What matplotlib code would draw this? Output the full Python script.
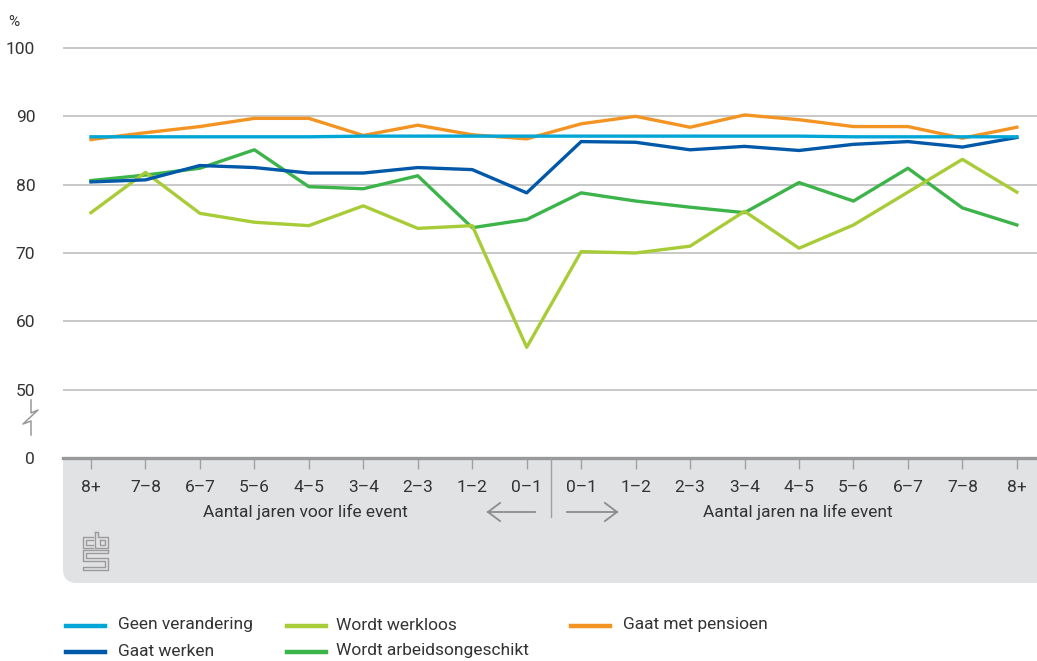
import matplotlib.pyplot as plt
from matplotlib.path import Path
from matplotlib.patches import PathPatch
from matplotlib.lines import Line2D
import matplotlib.transforms as mtransforms

plt.rcParams['font.family'] = ['Roboto', 'DejaVu Sans']

W, H = 1037, 661

# categorieen langs de x-as
before_labels = ["8+", "7–8", "6–7", "5–6", "4–5", "3–4", "2–3", "1–2", "0–1"]
after_labels = ["0–1", "1–2", "2–3", "3–4", "4–5", "5–6", "6–7", "7–8", "8+"]
x_labels = before_labels + after_labels

# percentages per groep
geen_verandering = [87.0, 87.0, 87.0, 87.0, 87.0, 87.1, 87.1, 87.1, 87.1,
                    87.1, 87.1, 87.1, 87.1, 87.1, 87.0, 87.0, 87.0, 87.0]
gaat_werken = [80.4, 80.7, 82.8, 82.5, 81.7, 81.7, 82.5, 82.2, 78.8,
               86.3, 86.2, 85.1, 85.6, 85.0, 85.9, 86.3, 85.5, 86.9]
wordt_werkloos = [75.9, 81.8, 75.8, 74.5, 74.0, 76.9, 73.6, 74.0, 56.2,
                  70.2, 70.0, 71.0, 76.1, 70.7, 74.1, 78.9, 83.7, 78.9]
arbeidsongeschikt = [80.6, 81.4, 82.4, 85.1, 79.7, 79.4, 81.3, 73.7, 74.9,
                     78.8, 77.6, 76.7, 75.9, 80.3, 77.6, 82.4, 76.6, 74.1]
pensioen = [86.6, 87.6, 88.5, 89.7, 89.7, 87.2, 88.7, 87.3, 86.7,
            88.9, 90.0, 88.4, 90.2, 89.5, 88.5, 88.5, 86.8, 88.4]

y_ticks = [40, 50, 60, 70, 80, 90, 100]
y_tick_labels = ["0", "50", "60", "70", "80", "90", "100"]

c_cyan = "#00a6d6"
c_blue = "#0058a8"
c_lime = "#a8cc38"
c_green = "#3cb44a"
c_orange = "#f39422"
c_text = "#333333"
c_grey = "#8c8c8c"
c_panel = "#e1e2e4"


def px(x, y):
    # pixelpositie (vanaf linksboven) naar figuurcoordinaten
    return x / W, 1 - y / H


fig = plt.figure(figsize=(W / 100, H / 100), dpi=100)

top_px, bottom_px = 34.3, 458
left_px, right_px = 63, 1037
ax = fig.add_axes([left_px / W, 1 - bottom_px / H,
                   (right_px - left_px) / W, (bottom_px - top_px) / H])
ax.set_ylim(40, 102)
ax.set_xlim(-0.514, 17.37)
ax.set_zorder(2)
ax.patch.set_alpha(0)

# grijs vlak onder de as met afgeronde hoek linksonder
r = 14
verts = [px(63, 458), px(1037, 458), px(1037, 583), px(63 + r, 583),
         px(63, 583), px(63, 583 - r), px(63, 458)]
codes = [Path.MOVETO, Path.LINETO, Path.LINETO, Path.LINETO,
         Path.CURVE3, Path.CURVE3, Path.CLOSEPOLY]
fig.patches.append(PathPatch(Path(verts, codes), transform=fig.transFigure,
                             facecolor=c_panel, edgecolor="none", zorder=0))

for yv in y_ticks[1:]:
    ax.axhline(yv, color="#c4c4c4", lw=1.3, zorder=1)

x = list(range(len(x_labels)))
lw = 2.4
ax.plot(x, arbeidsongeschikt, color=c_green, lw=lw, zorder=3)
ax.plot(x, wordt_werkloos, color=c_lime, lw=lw, zorder=3)
ax.plot(x, gaat_werken, color=c_blue, lw=lw, zorder=4)
ax.plot(x, pensioen, color=c_orange, lw=lw, zorder=4)
ax.plot(x, geen_verandering, color=c_cyan, lw=lw, zorder=5)

for s in ["top", "right", "left"]:
    ax.spines[s].set_visible(False)
ax.spines["bottom"].set_color("#999999")
ax.spines["bottom"].set_linewidth(2.4)
ax.spines["bottom"].set_zorder(6)

ax.set_yticks(y_ticks)
ax.set_yticklabels(y_tick_labels, fontsize=12.5, color=c_text)
ax.tick_params(axis="y", length=0, pad=20)

ax.set_xticks(x)
ax.set_xticklabels([])
ax.tick_params(axis="x", direction="out", length=8, width=1, color="#a0a0a0")

# categorielabels en astitels in het grijze vlak
lab_tr = mtransforms.blended_transform_factory(ax.transData, fig.transFigure)
for xi, lab in zip(x, x_labels):
    ax.text(xi, 1 - 487 / H, lab, transform=lab_tr, ha="center", va="center",
            fontsize=12.5, color=c_text, clip_on=False)
fig.text(*px(305, 512), "Aantal jaren voor life event", ha="center",
         va="center", fontsize=12.5, color=c_text)
fig.text(*px(798, 512), "Aantal jaren na life event", ha="center",
         va="center", fontsize=12.5, color=c_text)

# scheidingslijn en pijlen
fig.lines.append(Line2D(*zip(px(551, 458), px(551, 517)),
                        transform=fig.transFigure, color="#a0a0a0", lw=1))
arrow_segments = [
    [(535, 512), (488, 512)], [(488, 512), (500, 503)], [(488, 512), (500, 521)],
    [(567, 512), (617, 512)], [(617, 512), (605, 503)], [(617, 512), (605, 521)],
]
for seg in arrow_segments:
    fig.lines.append(Line2D(*zip(*[px(*p) for p in seg]),
                            transform=fig.transFigure, color=c_grey, lw=1.3))

# asbreuk tussen 0 en 50
brk = [(31, 400), (31, 413), (38, 410), (23, 424), (31, 421), (31, 435)]
fig.lines.append(Line2D(*zip(*[px(*p) for p in brk]),
                        transform=fig.transFigure, color="#999999", lw=1.1))

fig.text(*px(8, 22), "%", ha="left", va="center", fontsize=11, color=c_text)

# cbs-beeldmerk
logo_paths = [
    [(93, 537), (83, 537), (83, 548), (93, 548)],
    [(93, 540), (86, 540), (86, 545), (93, 545)],
    [(95, 532), (95, 548), (108, 548), (108, 537), (98, 537), (98, 532), (95, 532)],
    [(100, 540), (105, 540), (105, 545), (100, 545), (100, 540)],
    [(108, 550), (83, 550), (83, 561), (105, 561), (105, 567), (83, 567),
     (83, 570), (108, 570), (108, 558), (86, 558), (86, 553), (108, 553),
     (108, 550)],
]
for pts in logo_paths:
    fig.lines.append(Line2D(*zip(*[px(*p) for p in pts]),
                            transform=fig.transFigure, color="#9a9a9a", lw=1.0))

# legenda
legend_items = [
    ("Geen verandering", c_cyan, 66, 118, 625),
    ("Gaat werken", c_blue, 66, 118, 651),
    ("Wordt werkloos", c_lime, 287, 336, 625),
    ("Wordt arbeidsongeschikt", c_green, 287, 336, 651),
    ("Gaat met pensioen", c_orange, 571, 623, 625),
]
for name, col, lx, tx, ly in legend_items:
    fig.lines.append(Line2D(*zip(px(lx, ly + 1), px(lx + 39, ly + 1)),
                            transform=fig.transFigure, color=col, lw=3.2))
    fig.text(*px(tx, ly), name, ha="left", va="center", fontsize=12.5,
             color=c_text)

fig.savefig("out.png", dpi=100)
